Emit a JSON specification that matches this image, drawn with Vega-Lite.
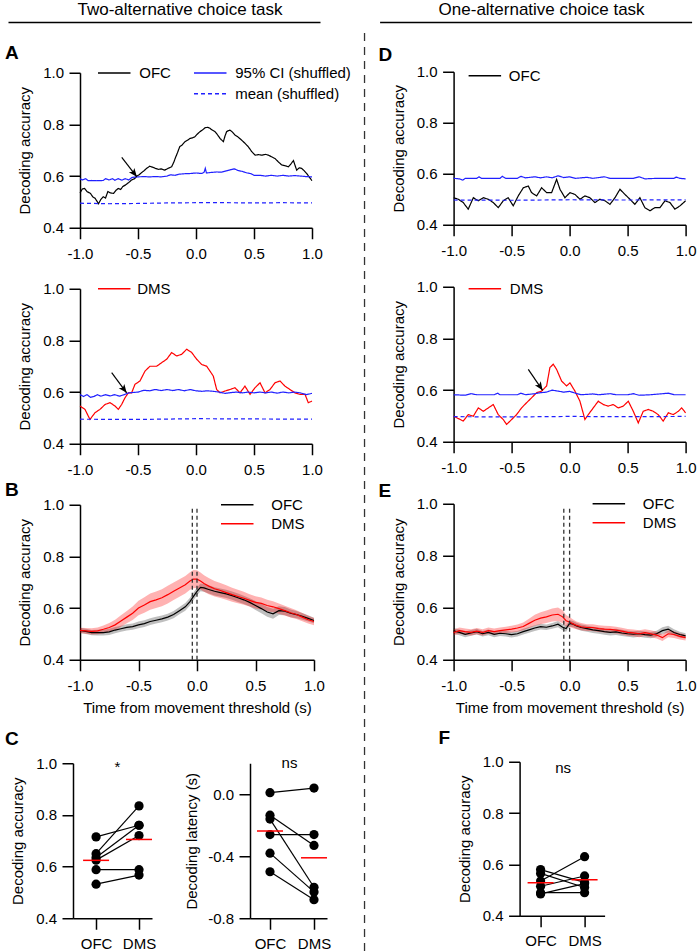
{
"$schema": "https://vega.github.io/schema/vega-lite/v6.json",
"background": "white",
"padding": {"left": 5, "top": 0, "right": 0, "bottom": 0},
"config": {
  "font": "Liberation Sans",
  "view": {"stroke": null},
  "locale": {"number": {"decimal": ".", "thousands": ",", "grouping": [3], "currency": ["$", ""], "minus": "-"}},
  "axis": {"domainColor": "#000", "domainWidth": 1.5, "tickColor": "#000", "tickWidth": 1.5, "tickSize": 11, "labelFontSize": 15, "labelColor": "#000", "labelFont": "Liberation Sans", "titleFont": "Liberation Sans", "titleFontSize": 15, "titleFontWeight": "normal", "titleColor": "#000", "grid": false, "labelFlush": false, "labelOverlap": false},
  "axisX": {"labelPadding": 7.5, "titlePadding": 7},
  "axisY": {"labelPadding": 5.5, "titlePadding": 10},
  "legend": {"orient": "none", "title": null, "padding": 0, "labelFontSize": 15, "labelColor": "#000", "labelFont": "Liberation Sans", "symbolType": "M-2.5,0H2.5", "symbolSize": 169, "symbolOffset": 8.75, "symbolStrokeWidth": 1.3, "symbolFillColor": "transparent", "labelOffset": 17.5, "rowPadding": 3, "columnPadding": 21.8, "gridAlign": "each"},
  "title": {"font": "Liberation Sans", "fontSize": 19, "fontWeight": "bold", "color": "#000", "anchor": "start", "frame": "group", "offset": 0, "baseline": "alphabetic"}
},
"datasets": {
  "aTop": [
    {"s":"OFC","t":-1,"v":0.535},{"s":"OFC","t":-0.98,"v":0.55},{"s":"OFC","t":-0.96,"v":0.552},{"s":"OFC","t":-0.94,"v":0.54},{"s":"OFC","t":-0.91,"v":0.533},{"s":"OFC","t":-0.89,"v":0.52},{"s":"OFC","t":-0.87,"v":0.514},{"s":"OFC","t":-0.85,"v":0.5},{"s":"OFC","t":-0.84,"v":0.493},{"s":"OFC","t":-0.82,"v":0.51},{"s":"OFC","t":-0.8,"v":0.52},{"s":"OFC","t":-0.78,"v":0.515},{"s":"OFC","t":-0.76,"v":0.54},{"s":"OFC","t":-0.74,"v":0.535},{"s":"OFC","t":-0.71,"v":0.533},{"s":"OFC","t":-0.69,"v":0.545},{"s":"OFC","t":-0.67,"v":0.552},{"s":"OFC","t":-0.65,"v":0.548},{"s":"OFC","t":-0.63,"v":0.56},{"s":"OFC","t":-0.61,"v":0.565},{"s":"OFC","t":-0.58,"v":0.575},{"s":"OFC","t":-0.555,"v":0.585},{"s":"OFC","t":-0.53,"v":0.59},{"s":"OFC","t":-0.51,"v":0.6},{"s":"OFC","t":-0.49,"v":0.605},{"s":"OFC","t":-0.47,"v":0.613},{"s":"OFC","t":-0.45,"v":0.62},{"s":"OFC","t":-0.425,"v":0.63},{"s":"OFC","t":-0.4,"v":0.638},{"s":"OFC","t":-0.37,"v":0.634},{"s":"OFC","t":-0.35,"v":0.63},{"s":"OFC","t":-0.325,"v":0.626},{"s":"OFC","t":-0.3,"v":0.628},{"s":"OFC","t":-0.27,"v":0.623},{"s":"OFC","t":-0.24,"v":0.63},{"s":"OFC","t":-0.21,"v":0.636},{"s":"OFC","t":-0.19,"v":0.655},{"s":"OFC","t":-0.18,"v":0.668},{"s":"OFC","t":-0.16,"v":0.69},{"s":"OFC","t":-0.14,"v":0.714},{"s":"OFC","t":-0.12,"v":0.72},{"s":"OFC","t":-0.095,"v":0.733},{"s":"OFC","t":-0.07,"v":0.74},{"s":"OFC","t":-0.05,"v":0.746},{"s":"OFC","t":-0.03,"v":0.748},{"s":"OFC","t":-0.01,"v":0.752},{"s":"OFC","t":0.01,"v":0.762},{"s":"OFC","t":0.034,"v":0.772},{"s":"OFC","t":0.055,"v":0.778},{"s":"OFC","t":0.078,"v":0.787},{"s":"OFC","t":0.1,"v":0.789},{"s":"OFC","t":0.12,"v":0.785},{"s":"OFC","t":0.14,"v":0.778},{"s":"OFC","t":0.164,"v":0.772},{"s":"OFC","t":0.185,"v":0.76},{"s":"OFC","t":0.207,"v":0.746},{"s":"OFC","t":0.22,"v":0.74},{"s":"OFC","t":0.236,"v":0.733},{"s":"OFC","t":0.25,"v":0.755},{"s":"OFC","t":0.264,"v":0.772},{"s":"OFC","t":0.28,"v":0.776},{"s":"OFC","t":0.293,"v":0.778},{"s":"OFC","t":0.315,"v":0.77},{"s":"OFC","t":0.336,"v":0.759},{"s":"OFC","t":0.36,"v":0.752},{"s":"OFC","t":0.394,"v":0.739},{"s":"OFC","t":0.42,"v":0.728},{"s":"OFC","t":0.45,"v":0.714},{"s":"OFC","t":0.48,"v":0.695},{"s":"OFC","t":0.51,"v":0.681},{"s":"OFC","t":0.54,"v":0.683},{"s":"OFC","t":0.566,"v":0.681},{"s":"OFC","t":0.6,"v":0.684},{"s":"OFC","t":0.624,"v":0.681},{"s":"OFC","t":0.65,"v":0.675},{"s":"OFC","t":0.681,"v":0.668},{"s":"OFC","t":0.71,"v":0.655},{"s":"OFC","t":0.739,"v":0.643},{"s":"OFC","t":0.77,"v":0.64},{"s":"OFC","t":0.796,"v":0.636},{"s":"OFC","t":0.82,"v":0.648},{"s":"OFC","t":0.84,"v":0.66},{"s":"OFC","t":0.855,"v":0.64},{"s":"OFC","t":0.868,"v":0.623},{"s":"OFC","t":0.89,"v":0.632},{"s":"OFC","t":0.91,"v":0.63},{"s":"OFC","t":0.93,"v":0.622},{"s":"OFC","t":0.954,"v":0.61},{"s":"OFC","t":0.975,"v":0.597},{"s":"OFC","t":1,"v":0.582},
    {"s":"95% CI (shuffled)","t":-1,"v":0.59},{"s":"95% CI (shuffled)","t":-0.98,"v":0.585},{"s":"95% CI (shuffled)","t":-0.95,"v":0.59},{"s":"95% CI (shuffled)","t":-0.93,"v":0.582},{"s":"95% CI (shuffled)","t":-0.9,"v":0.583},{"s":"95% CI (shuffled)","t":-0.86,"v":0.582},{"s":"95% CI (shuffled)","t":-0.8,"v":0.583},{"s":"95% CI (shuffled)","t":-0.78,"v":0.59},{"s":"95% CI (shuffled)","t":-0.75,"v":0.585},{"s":"95% CI (shuffled)","t":-0.72,"v":0.59},{"s":"95% CI (shuffled)","t":-0.7,"v":0.584},{"s":"95% CI (shuffled)","t":-0.67,"v":0.59},{"s":"95% CI (shuffled)","t":-0.64,"v":0.584},{"s":"95% CI (shuffled)","t":-0.61,"v":0.59},{"s":"95% CI (shuffled)","t":-0.58,"v":0.585},{"s":"95% CI (shuffled)","t":-0.55,"v":0.595},{"s":"95% CI (shuffled)","t":-0.5,"v":0.597},{"s":"95% CI (shuffled)","t":-0.45,"v":0.598},{"s":"95% CI (shuffled)","t":-0.4,"v":0.597},{"s":"95% CI (shuffled)","t":-0.35,"v":0.598},{"s":"95% CI (shuffled)","t":-0.3,"v":0.597},{"s":"95% CI (shuffled)","t":-0.25,"v":0.6},{"s":"95% CI (shuffled)","t":-0.22,"v":0.605},{"s":"95% CI (shuffled)","t":-0.18,"v":0.603},{"s":"95% CI (shuffled)","t":-0.15,"v":0.607},{"s":"95% CI (shuffled)","t":-0.1,"v":0.609},{"s":"95% CI (shuffled)","t":-0.05,"v":0.61},{"s":"95% CI (shuffled)","t":0,"v":0.612},{"s":"95% CI (shuffled)","t":0.05,"v":0.61},{"s":"95% CI (shuffled)","t":0.07,"v":0.615},{"s":"95% CI (shuffled)","t":0.08,"v":0.63},{"s":"95% CI (shuffled)","t":0.09,"v":0.612},{"s":"95% CI (shuffled)","t":0.13,"v":0.614},{"s":"95% CI (shuffled)","t":0.18,"v":0.616},{"s":"95% CI (shuffled)","t":0.22,"v":0.615},{"s":"95% CI (shuffled)","t":0.26,"v":0.62},{"s":"95% CI (shuffled)","t":0.3,"v":0.625},{"s":"95% CI (shuffled)","t":0.33,"v":0.628},{"s":"95% CI (shuffled)","t":0.36,"v":0.622},{"s":"95% CI (shuffled)","t":0.4,"v":0.618},{"s":"95% CI (shuffled)","t":0.44,"v":0.612},{"s":"95% CI (shuffled)","t":0.47,"v":0.61},{"s":"95% CI (shuffled)","t":0.5,"v":0.603},{"s":"95% CI (shuffled)","t":0.55,"v":0.603},{"s":"95% CI (shuffled)","t":0.6,"v":0.6},{"s":"95% CI (shuffled)","t":0.65,"v":0.603},{"s":"95% CI (shuffled)","t":0.7,"v":0.6},{"s":"95% CI (shuffled)","t":0.75,"v":0.603},{"s":"95% CI (shuffled)","t":0.8,"v":0.6},{"s":"95% CI (shuffled)","t":0.85,"v":0.602},{"s":"95% CI (shuffled)","t":0.9,"v":0.6},{"s":"95% CI (shuffled)","t":0.95,"v":0.598},{"s":"95% CI (shuffled)","t":1,"v":0.597},
    {"s":"mean (shuffled)","t":-1,"v":0.495},{"s":"mean (shuffled)","t":-0.75,"v":0.493},{"s":"mean (shuffled)","t":-0.5,"v":0.494},{"s":"mean (shuffled)","t":-0.25,"v":0.496},{"s":"mean (shuffled)","t":0,"v":0.497},{"s":"mean (shuffled)","t":0.25,"v":0.497},{"s":"mean (shuffled)","t":0.5,"v":0.496},{"s":"mean (shuffled)","t":0.75,"v":0.497},{"s":"mean (shuffled)","t":1,"v":0.496}
  ],
  "aBot": [
    {"s":"DMS","t":-1,"v":0.546},{"s":"DMS","t":-0.957,"v":0.533},{"s":"DMS","t":-0.914,"v":0.494},{"s":"DMS","t":-0.871,"v":0.52},{"s":"DMS","t":-0.828,"v":0.533},{"s":"DMS","t":-0.784,"v":0.552},{"s":"DMS","t":-0.741,"v":0.559},{"s":"DMS","t":-0.698,"v":0.546},{"s":"DMS","t":-0.67,"v":0.533},{"s":"DMS","t":-0.641,"v":0.552},{"s":"DMS","t":-0.612,"v":0.578},{"s":"DMS","t":-0.583,"v":0.597},{"s":"DMS","t":-0.555,"v":0.597},{"s":"DMS","t":-0.526,"v":0.63},{"s":"DMS","t":-0.483,"v":0.643},{"s":"DMS","t":-0.44,"v":0.681},{"s":"DMS","t":-0.397,"v":0.7},{"s":"DMS","t":-0.339,"v":0.7},{"s":"DMS","t":-0.296,"v":0.714},{"s":"DMS","t":-0.253,"v":0.727},{"s":"DMS","t":-0.21,"v":0.753},{"s":"DMS","t":-0.167,"v":0.74},{"s":"DMS","t":-0.124,"v":0.746},{"s":"DMS","t":-0.08,"v":0.766},{"s":"DMS","t":-0.037,"v":0.753},{"s":"DMS","t":0.006,"v":0.727},{"s":"DMS","t":0.049,"v":0.707},{"s":"DMS","t":0.092,"v":0.7},{"s":"DMS","t":0.121,"v":0.681},{"s":"DMS","t":0.149,"v":0.662},{"s":"DMS","t":0.178,"v":0.61},{"s":"DMS","t":0.207,"v":0.597},{"s":"DMS","t":0.25,"v":0.604},{"s":"DMS","t":0.293,"v":0.61},{"s":"DMS","t":0.336,"v":0.617},{"s":"DMS","t":0.379,"v":0.597},{"s":"DMS","t":0.422,"v":0.623},{"s":"DMS","t":0.466,"v":0.591},{"s":"DMS","t":0.509,"v":0.617},{"s":"DMS","t":0.552,"v":0.636},{"s":"DMS","t":0.595,"v":0.597},{"s":"DMS","t":0.638,"v":0.61},{"s":"DMS","t":0.681,"v":0.636},{"s":"DMS","t":0.724,"v":0.643},{"s":"DMS","t":0.767,"v":0.623},{"s":"DMS","t":0.81,"v":0.61},{"s":"DMS","t":0.853,"v":0.597},{"s":"DMS","t":0.897,"v":0.591},{"s":"DMS","t":0.94,"v":0.591},{"s":"DMS","t":0.968,"v":0.559},{"s":"DMS","t":1,"v":0.565},
    {"s":"95% CI (shuffled)","t":-1,"v":0.59},{"s":"95% CI (shuffled)","t":-0.97,"v":0.583},{"s":"95% CI (shuffled)","t":-0.94,"v":0.59},{"s":"95% CI (shuffled)","t":-0.91,"v":0.58},{"s":"95% CI (shuffled)","t":-0.88,"v":0.583},{"s":"95% CI (shuffled)","t":-0.85,"v":0.59},{"s":"95% CI (shuffled)","t":-0.82,"v":0.584},{"s":"95% CI (shuffled)","t":-0.78,"v":0.59},{"s":"95% CI (shuffled)","t":-0.74,"v":0.585},{"s":"95% CI (shuffled)","t":-0.7,"v":0.59},{"s":"95% CI (shuffled)","t":-0.66,"v":0.584},{"s":"95% CI (shuffled)","t":-0.62,"v":0.59},{"s":"95% CI (shuffled)","t":-0.58,"v":0.597},{"s":"95% CI (shuffled)","t":-0.5,"v":0.6},{"s":"95% CI (shuffled)","t":-0.45,"v":0.607},{"s":"95% CI (shuffled)","t":-0.4,"v":0.605},{"s":"95% CI (shuffled)","t":-0.35,"v":0.61},{"s":"95% CI (shuffled)","t":-0.3,"v":0.606},{"s":"95% CI (shuffled)","t":-0.25,"v":0.61},{"s":"95% CI (shuffled)","t":-0.2,"v":0.606},{"s":"95% CI (shuffled)","t":-0.15,"v":0.61},{"s":"95% CI (shuffled)","t":-0.1,"v":0.605},{"s":"95% CI (shuffled)","t":-0.05,"v":0.61},{"s":"95% CI (shuffled)","t":0,"v":0.605},{"s":"95% CI (shuffled)","t":0.05,"v":0.603},{"s":"95% CI (shuffled)","t":0.1,"v":0.605},{"s":"95% CI (shuffled)","t":0.15,"v":0.603},{"s":"95% CI (shuffled)","t":0.2,"v":0.6},{"s":"95% CI (shuffled)","t":0.25,"v":0.595},{"s":"95% CI (shuffled)","t":0.3,"v":0.598},{"s":"95% CI (shuffled)","t":0.35,"v":0.6},{"s":"95% CI (shuffled)","t":0.4,"v":0.597},{"s":"95% CI (shuffled)","t":0.45,"v":0.6},{"s":"95% CI (shuffled)","t":0.5,"v":0.597},{"s":"95% CI (shuffled)","t":0.55,"v":0.6},{"s":"95% CI (shuffled)","t":0.6,"v":0.597},{"s":"95% CI (shuffled)","t":0.65,"v":0.6},{"s":"95% CI (shuffled)","t":0.7,"v":0.596},{"s":"95% CI (shuffled)","t":0.75,"v":0.6},{"s":"95% CI (shuffled)","t":0.8,"v":0.597},{"s":"95% CI (shuffled)","t":0.85,"v":0.6},{"s":"95% CI (shuffled)","t":0.9,"v":0.597},{"s":"95% CI (shuffled)","t":0.95,"v":0.59},{"s":"95% CI (shuffled)","t":1,"v":0.595},
    {"s":"mean (shuffled)","t":-1,"v":0.495},{"s":"mean (shuffled)","t":-0.5,"v":0.494},{"s":"mean (shuffled)","t":0,"v":0.497},{"s":"mean (shuffled)","t":0.5,"v":0.496},{"s":"mean (shuffled)","t":1,"v":0.495}
  ],
  "dTop": [
    {"s":"OFC","t":-1,"v":0.506},{"s":"OFC","t":-0.96,"v":0.5},{"s":"OFC","t":-0.917,"v":0.487},{"s":"OFC","t":-0.874,"v":0.461},{"s":"OFC","t":-0.83,"v":0.506},{"s":"OFC","t":-0.787,"v":0.494},{"s":"OFC","t":-0.744,"v":0.506},{"s":"OFC","t":-0.701,"v":0.5},{"s":"OFC","t":-0.658,"v":0.487},{"s":"OFC","t":-0.615,"v":0.467},{"s":"OFC","t":-0.572,"v":0.494},{"s":"OFC","t":-0.529,"v":0.506},{"s":"OFC","t":-0.486,"v":0.474},{"s":"OFC","t":-0.443,"v":0.513},{"s":"OFC","t":-0.399,"v":0.545},{"s":"OFC","t":-0.356,"v":0.552},{"s":"OFC","t":-0.328,"v":0.526},{"s":"OFC","t":-0.284,"v":0.513},{"s":"OFC","t":-0.241,"v":0.545},{"s":"OFC","t":-0.198,"v":0.526},{"s":"OFC","t":-0.155,"v":0.526},{"s":"OFC","t":-0.112,"v":0.578},{"s":"OFC","t":-0.083,"v":0.539},{"s":"OFC","t":-0.04,"v":0.506},{"s":"OFC","t":0.003,"v":0.526},{"s":"OFC","t":0.046,"v":0.519},{"s":"OFC","t":0.089,"v":0.5},{"s":"OFC","t":0.132,"v":0.513},{"s":"OFC","t":0.175,"v":0.506},{"s":"OFC","t":0.218,"v":0.487},{"s":"OFC","t":0.261,"v":0.5},{"s":"OFC","t":0.305,"v":0.494},{"s":"OFC","t":0.348,"v":0.48},{"s":"OFC","t":0.391,"v":0.506},{"s":"OFC","t":0.434,"v":0.539},{"s":"OFC","t":0.477,"v":0.519},{"s":"OFC","t":0.52,"v":0.5},{"s":"OFC","t":0.563,"v":0.48},{"s":"OFC","t":0.606,"v":0.506},{"s":"OFC","t":0.649,"v":0.467},{"s":"OFC","t":0.693,"v":0.455},{"s":"OFC","t":0.736,"v":0.467},{"s":"OFC","t":0.779,"v":0.467},{"s":"OFC","t":0.822,"v":0.494},{"s":"OFC","t":0.865,"v":0.487},{"s":"OFC","t":0.908,"v":0.461},{"s":"OFC","t":0.951,"v":0.474},{"s":"OFC","t":1,"v":0.494},
    {"s":"95% CI (shuffled)","t":-1,"v":0.582},{"s":"95% CI (shuffled)","t":-0.95,"v":0.58},{"s":"95% CI (shuffled)","t":-0.92,"v":0.575},{"s":"95% CI (shuffled)","t":-0.9,"v":0.582},{"s":"95% CI (shuffled)","t":-0.8,"v":0.582},{"s":"95% CI (shuffled)","t":-0.78,"v":0.588},{"s":"95% CI (shuffled)","t":-0.76,"v":0.582},{"s":"95% CI (shuffled)","t":-0.6,"v":0.582},{"s":"95% CI (shuffled)","t":-0.58,"v":0.59},{"s":"95% CI (shuffled)","t":-0.55,"v":0.582},{"s":"95% CI (shuffled)","t":-0.45,"v":0.582},{"s":"95% CI (shuffled)","t":-0.42,"v":0.59},{"s":"95% CI (shuffled)","t":-0.38,"v":0.584},{"s":"95% CI (shuffled)","t":-0.3,"v":0.588},{"s":"95% CI (shuffled)","t":-0.25,"v":0.584},{"s":"95% CI (shuffled)","t":-0.2,"v":0.588},{"s":"95% CI (shuffled)","t":-0.15,"v":0.584},{"s":"95% CI (shuffled)","t":-0.1,"v":0.592},{"s":"95% CI (shuffled)","t":-0.05,"v":0.585},{"s":"95% CI (shuffled)","t":0,"v":0.588},{"s":"95% CI (shuffled)","t":0.05,"v":0.582},{"s":"95% CI (shuffled)","t":0.15,"v":0.586},{"s":"95% CI (shuffled)","t":0.2,"v":0.582},{"s":"95% CI (shuffled)","t":0.3,"v":0.588},{"s":"95% CI (shuffled)","t":0.35,"v":0.582},{"s":"95% CI (shuffled)","t":0.55,"v":0.582},{"s":"95% CI (shuffled)","t":0.6,"v":0.588},{"s":"95% CI (shuffled)","t":0.65,"v":0.58},{"s":"95% CI (shuffled)","t":0.75,"v":0.582},{"s":"95% CI (shuffled)","t":0.9,"v":0.582},{"s":"95% CI (shuffled)","t":0.92,"v":0.587},{"s":"95% CI (shuffled)","t":0.95,"v":0.582},{"s":"95% CI (shuffled)","t":1,"v":0.58},
    {"s":"mean (shuffled)","t":-1,"v":0.497},{"s":"mean (shuffled)","t":-0.5,"v":0.496},{"s":"mean (shuffled)","t":0,"v":0.498},{"s":"mean (shuffled)","t":0.5,"v":0.497},{"s":"mean (shuffled)","t":1,"v":0.498}
  ],
  "dBot": [
    {"s":"DMS","t":-1,"v":0.499},{"s":"DMS","t":-0.96,"v":0.49},{"s":"DMS","t":-0.917,"v":0.48},{"s":"DMS","t":-0.874,"v":0.505},{"s":"DMS","t":-0.83,"v":0.499},{"s":"DMS","t":-0.787,"v":0.531},{"s":"DMS","t":-0.744,"v":0.518},{"s":"DMS","t":-0.701,"v":0.531},{"s":"DMS","t":-0.658,"v":0.544},{"s":"DMS","t":-0.615,"v":0.505},{"s":"DMS","t":-0.572,"v":0.486},{"s":"DMS","t":-0.543,"v":0.467},{"s":"DMS","t":-0.5,"v":0.486},{"s":"DMS","t":-0.457,"v":0.505},{"s":"DMS","t":-0.414,"v":0.531},{"s":"DMS","t":-0.371,"v":0.551},{"s":"DMS","t":-0.328,"v":0.57},{"s":"DMS","t":-0.284,"v":0.59},{"s":"DMS","t":-0.241,"v":0.596},{"s":"DMS","t":-0.198,"v":0.616},{"s":"DMS","t":-0.17,"v":0.687},{"s":"DMS","t":-0.141,"v":0.7},{"s":"DMS","t":-0.112,"v":0.68},{"s":"DMS","t":-0.069,"v":0.635},{"s":"DMS","t":-0.026,"v":0.616},{"s":"DMS","t":0.003,"v":0.628},{"s":"DMS","t":0.046,"v":0.596},{"s":"DMS","t":0.089,"v":0.557},{"s":"DMS","t":0.132,"v":0.486},{"s":"DMS","t":0.161,"v":0.505},{"s":"DMS","t":0.204,"v":0.531},{"s":"DMS","t":0.247,"v":0.557},{"s":"DMS","t":0.29,"v":0.544},{"s":"DMS","t":0.333,"v":0.538},{"s":"DMS","t":0.376,"v":0.544},{"s":"DMS","t":0.42,"v":0.531},{"s":"DMS","t":0.463,"v":0.538},{"s":"DMS","t":0.506,"v":0.557},{"s":"DMS","t":0.549,"v":0.518},{"s":"DMS","t":0.592,"v":0.473},{"s":"DMS","t":0.635,"v":0.518},{"s":"DMS","t":0.678,"v":0.525},{"s":"DMS","t":0.721,"v":0.518},{"s":"DMS","t":0.764,"v":0.505},{"s":"DMS","t":0.807,"v":0.48},{"s":"DMS","t":0.851,"v":0.512},{"s":"DMS","t":0.894,"v":0.505},{"s":"DMS","t":0.937,"v":0.518},{"s":"DMS","t":0.966,"v":0.531},{"s":"DMS","t":1,"v":0.512},
    {"s":"95% CI (shuffled)","t":-1,"v":0.582},{"s":"95% CI (shuffled)","t":-0.9,"v":0.58},{"s":"95% CI (shuffled)","t":-0.85,"v":0.586},{"s":"95% CI (shuffled)","t":-0.8,"v":0.582},{"s":"95% CI (shuffled)","t":-0.65,"v":0.582},{"s":"95% CI (shuffled)","t":-0.62,"v":0.588},{"s":"95% CI (shuffled)","t":-0.6,"v":0.582},{"s":"95% CI (shuffled)","t":-0.45,"v":0.582},{"s":"95% CI (shuffled)","t":-0.42,"v":0.588},{"s":"95% CI (shuffled)","t":-0.38,"v":0.582},{"s":"95% CI (shuffled)","t":-0.3,"v":0.586},{"s":"95% CI (shuffled)","t":-0.25,"v":0.59},{"s":"95% CI (shuffled)","t":-0.2,"v":0.592},{"s":"95% CI (shuffled)","t":-0.15,"v":0.6},{"s":"95% CI (shuffled)","t":-0.1,"v":0.596},{"s":"95% CI (shuffled)","t":-0.05,"v":0.592},{"s":"95% CI (shuffled)","t":0,"v":0.595},{"s":"95% CI (shuffled)","t":0.05,"v":0.588},{"s":"95% CI (shuffled)","t":0.1,"v":0.582},{"s":"95% CI (shuffled)","t":0.2,"v":0.585},{"s":"95% CI (shuffled)","t":0.25,"v":0.582},{"s":"95% CI (shuffled)","t":0.35,"v":0.586},{"s":"95% CI (shuffled)","t":0.4,"v":0.582},{"s":"95% CI (shuffled)","t":0.5,"v":0.582},{"s":"95% CI (shuffled)","t":0.55,"v":0.586},{"s":"95% CI (shuffled)","t":0.6,"v":0.58},{"s":"95% CI (shuffled)","t":0.7,"v":0.582},{"s":"95% CI (shuffled)","t":0.85,"v":0.588},{"s":"95% CI (shuffled)","t":0.9,"v":0.582},{"s":"95% CI (shuffled)","t":1,"v":0.582},
    {"s":"mean (shuffled)","t":-1,"v":0.497},{"s":"mean (shuffled)","t":-0.5,"v":0.496},{"s":"mean (shuffled)","t":0,"v":0.498},{"s":"mean (shuffled)","t":0.5,"v":0.497},{"s":"mean (shuffled)","t":1,"v":0.498}
  ],
  "bData": [
    {"s":"OFC","t":-1,"v":0.514,"lo":0.504,"hi":0.524},{"s":"OFC","t":-0.95,"v":0.51,"lo":0.5,"hi":0.52},{"s":"OFC","t":-0.9,"v":0.505,"lo":0.495,"hi":0.515},{"s":"OFC","t":-0.85,"v":0.505,"lo":0.494,"hi":0.516},{"s":"OFC","t":-0.8,"v":0.505,"lo":0.494,"hi":0.516},{"s":"OFC","t":-0.75,"v":0.508,"lo":0.496,"hi":0.52},{"s":"OFC","t":-0.7,"v":0.515,"lo":0.503,"hi":0.527},{"s":"OFC","t":-0.65,"v":0.52,"lo":0.508,"hi":0.532},{"s":"OFC","t":-0.6,"v":0.525,"lo":0.513,"hi":0.537},{"s":"OFC","t":-0.55,"v":0.528,"lo":0.516,"hi":0.54},{"s":"OFC","t":-0.5,"v":0.535,"lo":0.522,"hi":0.548},{"s":"OFC","t":-0.45,"v":0.54,"lo":0.527,"hi":0.553},{"s":"OFC","t":-0.4,"v":0.548,"lo":0.535,"hi":0.561},{"s":"OFC","t":-0.35,"v":0.553,"lo":0.54,"hi":0.566},{"s":"OFC","t":-0.3,"v":0.558,"lo":0.545,"hi":0.571},{"s":"OFC","t":-0.25,"v":0.565,"lo":0.552,"hi":0.578},{"s":"OFC","t":-0.2,"v":0.575,"lo":0.561,"hi":0.589},{"s":"OFC","t":-0.15,"v":0.59,"lo":0.576,"hi":0.604},{"s":"OFC","t":-0.1,"v":0.605,"lo":0.59,"hi":0.62},{"s":"OFC","t":-0.06,"v":0.625,"lo":0.61,"hi":0.64},{"s":"OFC","t":-0.03,"v":0.645,"lo":0.63,"hi":0.66},{"s":"OFC","t":0,"v":0.665,"lo":0.65,"hi":0.68},{"s":"OFC","t":0.03,"v":0.68,"lo":0.665,"hi":0.695},{"s":"OFC","t":0.06,"v":0.678,"lo":0.663,"hi":0.693},{"s":"OFC","t":0.1,"v":0.672,"lo":0.656,"hi":0.688},{"s":"OFC","t":0.15,"v":0.665,"lo":0.649,"hi":0.681},{"s":"OFC","t":0.2,"v":0.66,"lo":0.644,"hi":0.676},{"s":"OFC","t":0.25,"v":0.655,"lo":0.639,"hi":0.671},{"s":"OFC","t":0.3,"v":0.648,"lo":0.632,"hi":0.664},{"s":"OFC","t":0.35,"v":0.64,"lo":0.624,"hi":0.656},{"s":"OFC","t":0.4,"v":0.632,"lo":0.616,"hi":0.648},{"s":"OFC","t":0.45,"v":0.622,"lo":0.606,"hi":0.638},{"s":"OFC","t":0.5,"v":0.61,"lo":0.593,"hi":0.627},{"s":"OFC","t":0.55,"v":0.598,"lo":0.58,"hi":0.616},{"s":"OFC","t":0.6,"v":0.585,"lo":0.566,"hi":0.604},{"s":"OFC","t":0.65,"v":0.578,"lo":0.559,"hi":0.597},{"s":"OFC","t":0.7,"v":0.59,"lo":0.573,"hi":0.607},{"s":"OFC","t":0.75,"v":0.588,"lo":0.572,"hi":0.604},{"s":"OFC","t":0.8,"v":0.58,"lo":0.565,"hi":0.595},{"s":"OFC","t":0.85,"v":0.575,"lo":0.561,"hi":0.589},{"s":"OFC","t":0.9,"v":0.568,"lo":0.555,"hi":0.581},{"s":"OFC","t":0.95,"v":0.56,"lo":0.548,"hi":0.572},{"s":"OFC","t":1,"v":0.552,"lo":0.541,"hi":0.563},
    {"s":"DMS","t":-1,"v":0.514,"lo":0.504,"hi":0.524},{"s":"DMS","t":-0.95,"v":0.512,"lo":0.501,"hi":0.523},{"s":"DMS","t":-0.9,"v":0.51,"lo":0.498,"hi":0.522},{"s":"DMS","t":-0.85,"v":0.512,"lo":0.499,"hi":0.525},{"s":"DMS","t":-0.8,"v":0.518,"lo":0.503,"hi":0.533},{"s":"DMS","t":-0.75,"v":0.525,"lo":0.508,"hi":0.542},{"s":"DMS","t":-0.7,"v":0.535,"lo":0.515,"hi":0.555},{"s":"DMS","t":-0.65,"v":0.55,"lo":0.528,"hi":0.572},{"s":"DMS","t":-0.6,"v":0.565,"lo":0.541,"hi":0.589},{"s":"DMS","t":-0.55,"v":0.58,"lo":0.554,"hi":0.606},{"s":"DMS","t":-0.5,"v":0.6,"lo":0.572,"hi":0.628},{"s":"DMS","t":-0.45,"v":0.612,"lo":0.582,"hi":0.642},{"s":"DMS","t":-0.4,"v":0.625,"lo":0.594,"hi":0.656},{"s":"DMS","t":-0.35,"v":0.632,"lo":0.6,"hi":0.664},{"s":"DMS","t":-0.3,"v":0.64,"lo":0.607,"hi":0.673},{"s":"DMS","t":-0.25,"v":0.652,"lo":0.618,"hi":0.686},{"s":"DMS","t":-0.2,"v":0.665,"lo":0.631,"hi":0.699},{"s":"DMS","t":-0.15,"v":0.678,"lo":0.644,"hi":0.712},{"s":"DMS","t":-0.1,"v":0.69,"lo":0.656,"hi":0.724},{"s":"DMS","t":-0.06,"v":0.705,"lo":0.671,"hi":0.739},{"s":"DMS","t":-0.03,"v":0.712,"lo":0.677,"hi":0.747},{"s":"DMS","t":0,"v":0.712,"lo":0.678,"hi":0.746},{"s":"DMS","t":0.03,"v":0.705,"lo":0.672,"hi":0.738},{"s":"DMS","t":0.06,"v":0.695,"lo":0.663,"hi":0.727},{"s":"DMS","t":0.1,"v":0.685,"lo":0.654,"hi":0.716},{"s":"DMS","t":0.15,"v":0.675,"lo":0.645,"hi":0.705},{"s":"DMS","t":0.2,"v":0.668,"lo":0.639,"hi":0.697},{"s":"DMS","t":0.25,"v":0.66,"lo":0.632,"hi":0.688},{"s":"DMS","t":0.3,"v":0.652,"lo":0.625,"hi":0.679},{"s":"DMS","t":0.35,"v":0.645,"lo":0.619,"hi":0.671},{"s":"DMS","t":0.4,"v":0.638,"lo":0.613,"hi":0.663},{"s":"DMS","t":0.45,"v":0.63,"lo":0.606,"hi":0.654},{"s":"DMS","t":0.5,"v":0.622,"lo":0.598,"hi":0.646},{"s":"DMS","t":0.55,"v":0.618,"lo":0.595,"hi":0.641},{"s":"DMS","t":0.6,"v":0.61,"lo":0.588,"hi":0.632},{"s":"DMS","t":0.65,"v":0.605,"lo":0.584,"hi":0.626},{"s":"DMS","t":0.7,"v":0.598,"lo":0.578,"hi":0.618},{"s":"DMS","t":0.75,"v":0.59,"lo":0.571,"hi":0.609},{"s":"DMS","t":0.8,"v":0.582,"lo":0.564,"hi":0.6},{"s":"DMS","t":0.85,"v":0.575,"lo":0.558,"hi":0.592},{"s":"DMS","t":0.9,"v":0.565,"lo":0.549,"hi":0.581},{"s":"DMS","t":0.95,"v":0.555,"lo":0.54,"hi":0.57},{"s":"DMS","t":1,"v":0.548,"lo":0.534,"hi":0.562}
  ],
  "eData": [
    {"s":"OFC","t":-1,"v":0.511,"lo":0.5,"hi":0.522},{"s":"OFC","t":-0.95,"v":0.505,"lo":0.494,"hi":0.516},{"s":"OFC","t":-0.9,"v":0.498,"lo":0.487,"hi":0.509},{"s":"OFC","t":-0.85,"v":0.503,"lo":0.492,"hi":0.514},{"s":"OFC","t":-0.8,"v":0.508,"lo":0.497,"hi":0.519},{"s":"OFC","t":-0.75,"v":0.5,"lo":0.489,"hi":0.511},{"s":"OFC","t":-0.7,"v":0.505,"lo":0.494,"hi":0.516},{"s":"OFC","t":-0.65,"v":0.498,"lo":0.487,"hi":0.509},{"s":"OFC","t":-0.6,"v":0.502,"lo":0.491,"hi":0.513},{"s":"OFC","t":-0.55,"v":0.5,"lo":0.489,"hi":0.511},{"s":"OFC","t":-0.5,"v":0.497,"lo":0.486,"hi":0.508},{"s":"OFC","t":-0.45,"v":0.5,"lo":0.489,"hi":0.511},{"s":"OFC","t":-0.4,"v":0.508,"lo":0.497,"hi":0.519},{"s":"OFC","t":-0.35,"v":0.515,"lo":0.504,"hi":0.526},{"s":"OFC","t":-0.3,"v":0.522,"lo":0.511,"hi":0.533},{"s":"OFC","t":-0.25,"v":0.527,"lo":0.516,"hi":0.538},{"s":"OFC","t":-0.2,"v":0.525,"lo":0.514,"hi":0.536},{"s":"OFC","t":-0.15,"v":0.53,"lo":0.519,"hi":0.541},{"s":"OFC","t":-0.1,"v":0.537,"lo":0.525,"hi":0.549},{"s":"OFC","t":-0.06,"v":0.525,"lo":0.513,"hi":0.537},{"s":"OFC","t":-0.03,"v":0.52,"lo":0.508,"hi":0.532},{"s":"OFC","t":0,"v":0.54,"lo":0.528,"hi":0.552},{"s":"OFC","t":0.03,"v":0.537,"lo":0.525,"hi":0.549},{"s":"OFC","t":0.06,"v":0.53,"lo":0.518,"hi":0.542},{"s":"OFC","t":0.1,"v":0.524,"lo":0.512,"hi":0.536},{"s":"OFC","t":0.15,"v":0.52,"lo":0.508,"hi":0.532},{"s":"OFC","t":0.2,"v":0.515,"lo":0.503,"hi":0.527},{"s":"OFC","t":0.25,"v":0.512,"lo":0.5,"hi":0.524},{"s":"OFC","t":0.3,"v":0.508,"lo":0.496,"hi":0.52},{"s":"OFC","t":0.35,"v":0.505,"lo":0.493,"hi":0.517},{"s":"OFC","t":0.4,"v":0.507,"lo":0.495,"hi":0.519},{"s":"OFC","t":0.45,"v":0.503,"lo":0.491,"hi":0.515},{"s":"OFC","t":0.5,"v":0.5,"lo":0.488,"hi":0.512},{"s":"OFC","t":0.55,"v":0.498,"lo":0.486,"hi":0.51},{"s":"OFC","t":0.6,"v":0.5,"lo":0.488,"hi":0.512},{"s":"OFC","t":0.65,"v":0.497,"lo":0.485,"hi":0.509},{"s":"OFC","t":0.7,"v":0.495,"lo":0.483,"hi":0.507},{"s":"OFC","t":0.75,"v":0.5,"lo":0.488,"hi":0.512},{"s":"OFC","t":0.8,"v":0.512,"lo":0.499,"hi":0.525},{"s":"OFC","t":0.85,"v":0.518,"lo":0.505,"hi":0.531},{"s":"OFC","t":0.9,"v":0.505,"lo":0.493,"hi":0.517},{"s":"OFC","t":0.95,"v":0.497,"lo":0.486,"hi":0.508},{"s":"OFC","t":1,"v":0.492,"lo":0.482,"hi":0.502},
    {"s":"DMS","t":-1,"v":0.505,"lo":0.494,"hi":0.516},{"s":"DMS","t":-0.95,"v":0.512,"lo":0.5,"hi":0.524},{"s":"DMS","t":-0.9,"v":0.508,"lo":0.496,"hi":0.52},{"s":"DMS","t":-0.85,"v":0.505,"lo":0.493,"hi":0.517},{"s":"DMS","t":-0.8,"v":0.51,"lo":0.498,"hi":0.522},{"s":"DMS","t":-0.75,"v":0.505,"lo":0.493,"hi":0.517},{"s":"DMS","t":-0.7,"v":0.512,"lo":0.5,"hi":0.524},{"s":"DMS","t":-0.65,"v":0.508,"lo":0.496,"hi":0.52},{"s":"DMS","t":-0.6,"v":0.512,"lo":0.5,"hi":0.524},{"s":"DMS","t":-0.55,"v":0.515,"lo":0.503,"hi":0.527},{"s":"DMS","t":-0.5,"v":0.518,"lo":0.505,"hi":0.531},{"s":"DMS","t":-0.45,"v":0.522,"lo":0.508,"hi":0.536},{"s":"DMS","t":-0.4,"v":0.528,"lo":0.513,"hi":0.543},{"s":"DMS","t":-0.35,"v":0.54,"lo":0.522,"hi":0.558},{"s":"DMS","t":-0.3,"v":0.552,"lo":0.531,"hi":0.573},{"s":"DMS","t":-0.25,"v":0.56,"lo":0.537,"hi":0.583},{"s":"DMS","t":-0.2,"v":0.565,"lo":0.541,"hi":0.589},{"s":"DMS","t":-0.15,"v":0.572,"lo":0.547,"hi":0.597},{"s":"DMS","t":-0.1,"v":0.575,"lo":0.549,"hi":0.601},{"s":"DMS","t":-0.06,"v":0.565,"lo":0.54,"hi":0.59},{"s":"DMS","t":-0.03,"v":0.55,"lo":0.528,"hi":0.572},{"s":"DMS","t":0,"v":0.545,"lo":0.526,"hi":0.564},{"s":"DMS","t":0.03,"v":0.538,"lo":0.521,"hi":0.555},{"s":"DMS","t":0.06,"v":0.532,"lo":0.517,"hi":0.547},{"s":"DMS","t":0.1,"v":0.527,"lo":0.513,"hi":0.541},{"s":"DMS","t":0.15,"v":0.524,"lo":0.511,"hi":0.537},{"s":"DMS","t":0.2,"v":0.524,"lo":0.511,"hi":0.537},{"s":"DMS","t":0.25,"v":0.52,"lo":0.507,"hi":0.533},{"s":"DMS","t":0.3,"v":0.518,"lo":0.505,"hi":0.531},{"s":"DMS","t":0.35,"v":0.517,"lo":0.504,"hi":0.53},{"s":"DMS","t":0.4,"v":0.514,"lo":0.501,"hi":0.527},{"s":"DMS","t":0.45,"v":0.51,"lo":0.497,"hi":0.523},{"s":"DMS","t":0.5,"v":0.505,"lo":0.492,"hi":0.518},{"s":"DMS","t":0.55,"v":0.503,"lo":0.49,"hi":0.516},{"s":"DMS","t":0.6,"v":0.5,"lo":0.487,"hi":0.513},{"s":"DMS","t":0.65,"v":0.504,"lo":0.491,"hi":0.517},{"s":"DMS","t":0.7,"v":0.5,"lo":0.487,"hi":0.513},{"s":"DMS","t":0.75,"v":0.495,"lo":0.482,"hi":0.508},{"s":"DMS","t":0.8,"v":0.485,"lo":0.472,"hi":0.498},{"s":"DMS","t":0.85,"v":0.5,"lo":0.487,"hi":0.513},{"s":"DMS","t":0.9,"v":0.497,"lo":0.484,"hi":0.51},{"s":"DMS","t":0.95,"v":0.49,"lo":0.478,"hi":0.502},{"s":"DMS","t":1,"v":0.485,"lo":0.474,"hi":0.496}
  ],
  "bLat": [{"t": -0.04}, {"t": 0}],
  "eLat": [{"t": -0.05}, {"t": 0}],
  "arrA1": [{"t0": -0.64, "v0": 0.672, "t1": -0.51, "v1": 0.597}],
  "arrA2": [{"t0": -0.727, "v0": 0.675, "t1": -0.598, "v1": 0.597}],
  "arrD2": [{"t0": -0.356, "v0": 0.68, "t1": -0.233, "v1": 0.599}],
  "c1": [
    {"id":1,"region":"OFC","v":0.715},{"id":2,"region":"OFC","v":0.65},{"id":3,"region":"OFC","v":0.635},{"id":4,"region":"OFC","v":0.625},{"id":5,"region":"OFC","v":0.588},{"id":6,"region":"OFC","v":0.532},
    {"id":1,"region":"DMS","v":0.76},{"id":2,"region":"DMS","v":0.835},{"id":3,"region":"DMS","v":0.76},{"id":4,"region":"DMS","v":0.72},{"id":5,"region":"DMS","v":0.588},{"id":6,"region":"DMS","v":0.567}
  ],
  "c2": [
    {"id":1,"region":"OFC","v":0.01},{"id":2,"region":"OFC","v":-0.135},{"id":3,"region":"OFC","v":-0.16},{"id":4,"region":"OFC","v":-0.26},{"id":5,"region":"OFC","v":-0.38},{"id":6,"region":"OFC","v":-0.5},
    {"id":1,"region":"DMS","v":0.04},{"id":2,"region":"DMS","v":-0.33},{"id":3,"region":"DMS","v":-0.6},{"id":4,"region":"DMS","v":-0.26},{"id":5,"region":"DMS","v":-0.63},{"id":6,"region":"DMS","v":-0.68}
  ],
  "f": [
    {"id":1,"region":"OFC","v":0.58},{"id":2,"region":"OFC","v":0.565},{"id":3,"region":"OFC","v":0.535},{"id":4,"region":"OFC","v":0.515},{"id":5,"region":"OFC","v":0.49},{"id":6,"region":"OFC","v":0.485},
    {"id":1,"region":"DMS","v":0.53},{"id":2,"region":"DMS","v":0.51},{"id":3,"region":"DMS","v":0.63},{"id":4,"region":"DMS","v":0.555},{"id":5,"region":"DMS","v":0.49},{"id":6,"region":"DMS","v":0.525}
  ]
},
"hconcat": [
  {
    "vconcat": [
      {"width": 312, "height": 22, "data": {"values": [{"label": "Two-alternative choice task"}]},
       "mark": {"type": "text", "fontSize": 17, "dx": 16, "dy": -1, "color": "#000"},
       "encoding": {"text": {"field": "label", "type": "nominal"},
         "x": {"datum": 0, "type": "quantitative", "scale": {"domain": [-1, 1], "nice": false}, "axis": {"title": null, "labels": false, "ticks": false, "grid": false, "domainWidth": 1.3}}}},
      {
        "vconcat": [
          {
            "hconcat": [
              {"width": 1, "height": 1, "data": {"values": []}, "mark": "point"},
              {
                "vconcat": [
                  {
                    "width": 232, "height": 155,
                    "title": {"text": "A", "dx": -75, "dy": 1.5},
                    "layer": [
                      {"data": {"name": "aTop"}, "mark": {"type": "line", "strokeWidth": 1.2},
                       "encoding": {
                         "x": {"field": "t", "type": "quantitative", "scale": {"domain": [-1, 1], "nice": false, "zero": false}, "axis": {"values": [-1, -0.5, 0, 0.5, 1], "format": ".1f", "title": null}},
                         "y": {"field": "v", "type": "quantitative", "scale": {"domain": [0.4, 1], "nice": false, "zero": false}, "axis": {"values": [0.4, 0.6, 0.8, 1], "format": ".1f", "title": "Decoding accuracy"}},
                         "color": {"field": "s", "type": "nominal", "scale": {"domain": ["OFC", "95% CI (shuffled)", " ", "mean (shuffled)"], "range": ["#000000", "#2020ff", "transparent", "#2020ff"]}, "legend": {"columns": 2, "direction": "horizontal", "legendX": 18, "legendY": -7.5, "rowPadding": 5, "columnPadding": 20}},
                         "strokeDash": {"field": "s", "type": "nominal", "scale": {"domain": ["OFC", "95% CI (shuffled)", " ", "mean (shuffled)"], "range": [[1, 0], [1, 0], [1, 0], [4, 3]]}, "legend": {"columns": 2, "direction": "horizontal", "legendX": 18, "legendY": -7.5, "rowPadding": 5, "columnPadding": 20}}
                       }},
                      {"data": {"name": "arrA1"}, "mark": {"type": "rule", "strokeWidth": 1.2, "color": "#000"},
                       "encoding": {"x": {"field": "t0", "type": "quantitative"}, "y": {"field": "v0", "type": "quantitative"}, "x2": {"field": "t1"}, "y2": {"field": "v1"}}},
                      {"data": {"name": "arrA1"}, "mark": {"type": "point", "shape": "M0,0L0.5,1.2L0,0.9L-0.5,1.2Z", "size": 200, "angle": 142, "filled": true, "color": "#000", "opacity": 1},
                       "encoding": {"x": {"field": "t1", "type": "quantitative"}, "y": {"field": "v1", "type": "quantitative"}}}
                    ]
                  },
                  {
                    "width": 232, "height": 155,
                    "layer": [
                      {"data": {"name": "aBot"}, "mark": {"type": "line", "strokeWidth": 1.2},
                       "encoding": {
                         "x": {"field": "t", "type": "quantitative", "scale": {"domain": [-1, 1], "nice": false, "zero": false}, "axis": {"values": [-1, -0.5, 0, 0.5, 1], "format": ".1f", "title": null}},
                         "y": {"field": "v", "type": "quantitative", "scale": {"domain": [0.4, 1], "nice": false, "zero": false}, "axis": {"values": [0.4, 0.6, 0.8, 1], "format": ".1f", "title": "Decoding accuracy"}},
                         "color": {"field": "s", "type": "nominal", "scale": {"domain": ["DMS", "95% CI (shuffled)", "mean (shuffled)"], "range": ["#ff0000", "#2020ff", "#2020ff"]}, "legend": {"values": ["DMS"], "legendX": 18, "legendY": -7.5, "labelOffset": 15.5}},
                         "strokeDash": {"field": "s", "type": "nominal", "scale": {"domain": ["DMS", "95% CI (shuffled)", "mean (shuffled)"], "range": [[1, 0], [1, 0], [4, 3]]}, "legend": null}
                       }},
                      {"data": {"name": "arrA2"}, "mark": {"type": "rule", "strokeWidth": 1.2, "color": "#000"},
                       "encoding": {"x": {"field": "t0", "type": "quantitative"}, "y": {"field": "v0", "type": "quantitative"}, "x2": {"field": "t1"}, "y2": {"field": "v1"}}},
                      {"data": {"name": "arrA2"}, "mark": {"type": "point", "shape": "M0,0L0.5,1.2L0,0.9L-0.5,1.2Z", "size": 200, "angle": 143, "filled": true, "color": "#000", "opacity": 1},
                       "encoding": {"x": {"field": "t1", "type": "quantitative"}, "y": {"field": "v1", "type": "quantitative"}}}
                    ]
                  },
                  {
                    "width": 234, "height": 155,
                    "title": {"text": "B", "dx": -75, "dy": 7},
                    "data": {"name": "bData"},
                    "layer": [
                      {"transform": [{"filter": "datum.s === 'OFC'"}], "mark": {"type": "area", "color": "#000000", "opacity": 0.25},
                       "encoding": {
                         "x": {"field": "t", "type": "quantitative", "scale": {"domain": [-1, 1], "nice": false, "zero": false}, "axis": {"values": [-1, -0.5, 0, 0.5, 1], "format": ".1f", "title": "Time from movement threshold (s)"}},
                         "y": {"field": "lo", "type": "quantitative", "scale": {"domain": [0.4, 1], "nice": false, "zero": false}, "axis": {"values": [0.4, 0.6, 0.8, 1], "format": ".1f", "title": "Decoding accuracy"}},
                         "y2": {"field": "hi"}
                       }},
                      {"transform": [{"filter": "datum.s === 'DMS'"}], "mark": {"type": "area", "color": "#ff0000", "opacity": 0.3},
                       "encoding": {"x": {"field": "t", "type": "quantitative"}, "y": {"field": "lo", "type": "quantitative"}, "y2": {"field": "hi"}}},
                      {"mark": {"type": "line", "strokeWidth": 1.2},
                       "encoding": {
                         "x": {"field": "t", "type": "quantitative"},
                         "y": {"field": "v", "type": "quantitative"},
                         "color": {"field": "s", "type": "nominal", "scale": {"domain": ["OFC", "DMS"], "range": ["#000000", "#ff0000"]}, "legend": {"legendX": 141, "legendY": -7.5, "labelOffset": 26.5, "rowPadding": 3}}
                       }},
                      {"data": {"name": "bLat"}, "mark": {"type": "rule", "strokeDash": [4, 3], "strokeWidth": 1.3, "color": "#333"},
                       "encoding": {"x": {"field": "t", "type": "quantitative"}, "y": {"datum": 0.4}, "y2": {"datum": 0.985}}}
                    ]
                  }
                ],
                "spacing": 61, "bounds": "flush",
                "resolve": {"scale": {"color": "independent", "strokeDash": "independent"}, "legend": {"color": "independent", "strokeDash": "independent"}}
              }
            ],
            "spacing": -4,
            "resolve": {"scale": {"color": "independent", "strokeDash": "independent"}, "legend": {"color": "independent", "strokeDash": "independent"}}
          },
          {
            "hconcat": [
              {"width": 1, "height": 1, "data": {"values": []}, "mark": "point"},
              {
                "hconcat": [
                  {
                    "width": 79, "height": 155,
                    "title": {"text": "C", "dx": -68, "dy": -3.5},
                    "data": {"name": "c1"},
                    "layer": [
                      {"mark": {"type": "line", "color": "#000", "strokeWidth": 1.2},
                       "encoding": {
                         "x": {"field": "region", "type": "nominal", "scale": {"type": "point", "domain": ["OFC", "DMS"], "padding": 0.42, "align": 0.64}, "axis": {"title": null, "labelAngle": 0, "labelPadding": 7}},
                         "y": {"field": "v", "type": "quantitative", "scale": {"domain": [0.4, 1], "nice": false, "zero": false}, "axis": {"values": [0.4, 0.6, 0.8, 1], "format": ".1f", "title": "Decoding accuracy"}},
                         "detail": {"field": "id", "type": "nominal"}
                       }},
                      {"mark": {"type": "point", "filled": true, "size": 85, "color": "#000", "opacity": 1},
                       "encoding": {"x": {"field": "region", "type": "nominal"}, "y": {"field": "v", "type": "quantitative"}}},
                      {"mark": {"type": "tick", "color": "#ff0000", "size": 26, "thickness": 1.5},
                       "encoding": {"x": {"field": "region", "type": "nominal"}, "y": {"aggregate": "mean", "field": "v", "type": "quantitative"}}},
                      {"data": {"values": [{"txt": "*"}]}, "mark": {"type": "text", "fontSize": 15, "dx": 5, "dy": 4, "color": "#000"},
                       "encoding": {"text": {"field": "txt", "type": "nominal"}, "y": {"datum": 1}}}
                    ]
                  },
                  {
                    "width": 77, "height": 155,
                    "data": {"name": "c2"},
                    "layer": [
                      {"mark": {"type": "line", "color": "#000", "strokeWidth": 1.2},
                       "encoding": {
                         "x": {"field": "region", "type": "nominal", "scale": {"type": "point", "domain": ["OFC", "DMS"], "padding": 0.375, "align": 0.606}, "axis": {"title": null, "labelAngle": 0, "labelPadding": 7}},
                         "y": {"field": "v", "type": "quantitative", "scale": {"domain": [-0.8, 0.2], "nice": false, "zero": false}, "axis": {"values": [-0.8, -0.6, -0.4, -0.2, 0, 0.2], "format": ".1f", "title": "Decoding latency (s)", "titlePadding": 8}},
                         "detail": {"field": "id", "type": "nominal"}
                       }},
                      {"mark": {"type": "point", "filled": true, "size": 85, "color": "#000", "opacity": 1},
                       "encoding": {"x": {"field": "region", "type": "nominal"}, "y": {"field": "v", "type": "quantitative"}}},
                      {"mark": {"type": "tick", "color": "#ff0000", "size": 26, "thickness": 1.5},
                       "encoding": {"x": {"field": "region", "type": "nominal"}, "y": {"aggregate": "mean", "field": "v", "type": "quantitative"}}},
                      {"data": {"values": [{"txt": "ns"}]}, "mark": {"type": "text", "fontSize": 15, "dx": 1, "color": "#000"},
                       "encoding": {"text": {"field": "txt", "type": "nominal"}, "y": {"datum": 0.2}}}
                    ]
                  }
                ],
                "spacing": 98, "bounds": "flush"
              }
            ],
            "spacing": -4
          }
        ],
        "spacing": 13.5,
        "resolve": {"scale": {"color": "independent", "strokeDash": "independent"}, "legend": {"color": "independent", "strokeDash": "independent"}}
      }
    ],
    "spacing": 21.75,
    "resolve": {"scale": {"color": "independent", "strokeDash": "independent"}, "legend": {"color": "independent", "strokeDash": "independent"}}
  },
  {
    "width": 27, "height": 951,
    "data": {"values": [{"sep": "a"}]},
    "mark": {"type": "rule", "strokeDash": [8, 6], "strokeWidth": 1.3, "color": "#333"},
    "encoding": {
      "x": {"field": "sep", "type": "nominal", "scale": {"type": "point", "padding": 0.5, "align": 0.49}, "axis": null},
      "y": {"datum": 0, "type": "quantitative", "scale": {"domain": [0, 1], "nice": false, "zero": false}, "axis": null},
      "y2": {"datum": 0.966}
    }
  },
  {
    "vconcat": [
      {"width": 312, "height": 22, "data": {"values": [{"label": "One-alternative choice task"}]},
       "mark": {"type": "text", "fontSize": 17, "dx": 6, "dy": -1, "color": "#000"},
       "encoding": {"text": {"field": "label", "type": "nominal"},
         "x": {"datum": 0, "type": "quantitative", "scale": {"domain": [-1, 1], "nice": false}, "axis": {"title": null, "labels": false, "ticks": false, "grid": false, "domainWidth": 1.3}}}},
      {
        "vconcat": [
          {
            "hconcat": [
              {"width": 1, "height": 1, "data": {"values": []}, "mark": "point"},
              {
                "vconcat": [
                  {
                    "width": 232, "height": 153,
                    "title": {"text": "D", "dx": -75, "dy": 4.5},
                    "layer": [
                      {"data": {"name": "dTop"}, "mark": {"type": "line", "strokeWidth": 1.2},
                       "encoding": {
                         "x": {"field": "t", "type": "quantitative", "scale": {"domain": [-1, 1], "nice": false, "zero": false}, "axis": {"values": [-1, -0.5, 0, 0.5, 1], "format": ".1f", "title": null}},
                         "y": {"field": "v", "type": "quantitative", "scale": {"domain": [0.4, 1], "nice": false, "zero": false}, "axis": {"values": [0.4, 0.6, 0.8, 1], "format": ".1f", "title": "Decoding accuracy"}},
                         "color": {"field": "s", "type": "nominal", "scale": {"domain": ["OFC", "95% CI (shuffled)", "mean (shuffled)"], "range": ["#000000", "#2020ff", "#2020ff"]}, "legend": {"values": ["OFC"], "legendX": 15, "legendY": -3.5, "labelOffset": 16.5}},
                         "strokeDash": {"field": "s", "type": "nominal", "scale": {"domain": ["OFC", "95% CI (shuffled)", "mean (shuffled)"], "range": [[1, 0], [1, 0], [4, 3]]}, "legend": null}
                       }}
                    ]
                  },
                  {
                    "width": 232, "height": 155,
                    "layer": [
                      {"data": {"name": "dBot"}, "mark": {"type": "line", "strokeWidth": 1.2},
                       "encoding": {
                         "x": {"field": "t", "type": "quantitative", "scale": {"domain": [-1, 1], "nice": false, "zero": false}, "axis": {"values": [-1, -0.5, 0, 0.5, 1], "format": ".1f", "title": null}},
                         "y": {"field": "v", "type": "quantitative", "scale": {"domain": [0.4, 1], "nice": false, "zero": false}, "axis": {"values": [0.4, 0.6, 0.8, 1], "format": ".1f", "title": "Decoding accuracy"}},
                         "color": {"field": "s", "type": "nominal", "scale": {"domain": ["DMS", "95% CI (shuffled)", "mean (shuffled)"], "range": ["#ff0000", "#2020ff", "#2020ff"]}, "legend": {"values": ["DMS"], "legendX": 15, "legendY": -5.5, "labelOffset": 17.5}},
                         "strokeDash": {"field": "s", "type": "nominal", "scale": {"domain": ["DMS", "95% CI (shuffled)", "mean (shuffled)"], "range": [[1, 0], [1, 0], [4, 3]]}, "legend": null}
                       }},
                      {"data": {"name": "arrD2"}, "mark": {"type": "rule", "strokeWidth": 1.2, "color": "#000"},
                       "encoding": {"x": {"field": "t0", "type": "quantitative"}, "y": {"field": "v0", "type": "quantitative"}, "x2": {"field": "t1"}, "y2": {"field": "v1"}}},
                      {"data": {"name": "arrD2"}, "mark": {"type": "point", "shape": "M0,0L0.5,1.2L0,0.9L-0.5,1.2Z", "size": 200, "angle": 146, "filled": true, "color": "#000", "opacity": 1},
                       "encoding": {"x": {"field": "t1", "type": "quantitative"}, "y": {"field": "v1", "type": "quantitative"}}}
                    ]
                  },
                  {
                    "width": 232, "height": 156,
                    "title": {"text": "E", "dx": -75, "dy": 8.5},
                    "data": {"name": "eData"},
                    "layer": [
                      {"transform": [{"filter": "datum.s === 'OFC'"}], "mark": {"type": "area", "color": "#000000", "opacity": 0.25},
                       "encoding": {
                         "x": {"field": "t", "type": "quantitative", "scale": {"domain": [-1, 1], "nice": false, "zero": false}, "axis": {"values": [-1, -0.5, 0, 0.5, 1], "format": ".1f", "title": "Time from movement threshold (s)"}},
                         "y": {"field": "lo", "type": "quantitative", "scale": {"domain": [0.4, 1], "nice": false, "zero": false}, "axis": {"values": [0.4, 0.6, 0.8, 1], "format": ".1f", "title": "Decoding accuracy"}},
                         "y2": {"field": "hi"}
                       }},
                      {"transform": [{"filter": "datum.s === 'DMS'"}], "mark": {"type": "area", "color": "#ff0000", "opacity": 0.3},
                       "encoding": {"x": {"field": "t", "type": "quantitative"}, "y": {"field": "lo", "type": "quantitative"}, "y2": {"field": "hi"}}},
                      {"mark": {"type": "line", "strokeWidth": 1.2},
                       "encoding": {
                         "x": {"field": "t", "type": "quantitative"},
                         "y": {"field": "v", "type": "quantitative"},
                         "color": {"field": "s", "type": "nominal", "scale": {"domain": ["OFC", "DMS"], "range": ["#000000", "#ff0000"]}, "legend": {"legendX": 139, "legendY": -7.5, "labelOffset": 26.5, "rowPadding": 3}}
                       }},
                      {"data": {"name": "eLat"}, "mark": {"type": "rule", "strokeDash": [4, 3], "strokeWidth": 1.3, "color": "#333"},
                       "encoding": {"x": {"field": "t", "type": "quantitative"}, "y": {"datum": 0.4}, "y2": {"datum": 0.985}}}
                    ]
                  }
                ],
                "spacing": 62, "bounds": "flush",
                "resolve": {"scale": {"color": "independent", "strokeDash": "independent"}, "legend": {"color": "independent", "strokeDash": "independent"}}
              }
            ],
            "spacing": -2,
            "resolve": {"scale": {"color": "independent", "strokeDash": "independent"}, "legend": {"color": "independent", "strokeDash": "independent"}}
          },
          {
            "hconcat": [
              {"width": 1, "height": 1, "data": {"values": []}, "mark": "point"},
              {
                "width": 85, "height": 154,
                "title": {"text": "F", "dx": -81, "dy": -2.5},
                "data": {"name": "f"},
                "layer": [
                  {"mark": {"type": "line", "color": "#000", "strokeWidth": 1.2},
                   "encoding": {
                     "x": {"field": "region", "type": "nominal", "scale": {"type": "point", "domain": ["OFC", "DMS"], "padding": 0.466, "align": 0.512}, "axis": {"title": null, "labelAngle": 0, "labelPadding": 7}},
                     "y": {"field": "v", "type": "quantitative", "scale": {"domain": [0.4, 1], "nice": false, "zero": false}, "axis": {"values": [0.4, 0.6, 0.8, 1], "format": ".1f", "title": "Decoding accuracy"}},
                     "detail": {"field": "id", "type": "nominal"}
                   }},
                  {"mark": {"type": "point", "filled": true, "size": 85, "color": "#000", "opacity": 1},
                   "encoding": {"x": {"field": "region", "type": "nominal"}, "y": {"field": "v", "type": "quantitative"}}},
                  {"mark": {"type": "tick", "color": "#ff0000", "size": 26, "thickness": 1.5},
                   "encoding": {"x": {"field": "region", "type": "nominal"}, "y": {"aggregate": "mean", "field": "v", "type": "quantitative"}}},
                  {"data": {"values": [{"txt": "ns"}]}, "mark": {"type": "text", "fontSize": 15, "dx": 1, "color": "#000"},
                   "encoding": {"text": {"field": "txt", "type": "nominal"}, "y": {"datum": 0.975}}}
                ]
              }
            ],
            "spacing": 58
          }
        ],
        "spacing": 13,
        "resolve": {"scale": {"color": "independent", "strokeDash": "independent"}, "legend": {"color": "independent", "strokeDash": "independent"}}
      }
    ],
    "spacing": 23.75,
    "resolve": {"scale": {"color": "independent", "strokeDash": "independent"}, "legend": {"color": "independent", "strokeDash": "independent"}}
  }
],
"spacing": 0.3,
"resolve": {"scale": {"color": "independent", "strokeDash": "independent"}, "legend": {"color": "independent", "strokeDash": "independent"}}
}
